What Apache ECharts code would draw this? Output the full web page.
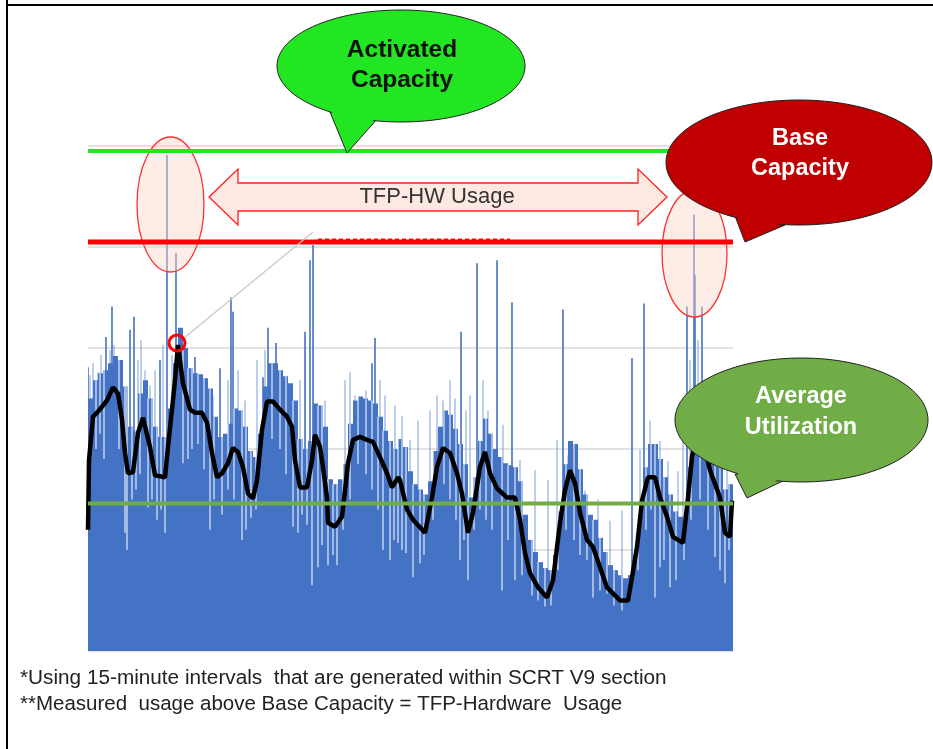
<!DOCTYPE html>
<html><head><meta charset="utf-8">
<script src="https://cdn.jsdelivr.net/npm/echarts@6/dist/echarts.min.js"></script>
<style>html,body{margin:0;padding:0;background:#fff}#c{width:933px;height:749px}</style>
</head><body><div id="c"></div>
<script>
// ---- data (x = 15-minute interval index, y = capacity units) ----
const fillStart = 0, fillStep = 5;
const fillValues = [250,268,275,278,285,292,288,262,222,218,255,268,250,222,212,212,240,285,320,300,
  280,275,274,270,260,232,212,215,225,240,238,222,198,192,215,262,285,285,278,272,
  265,248,210,200,208,245,243,222,170,165,170,185,225,248,252,250,248,245,232,218,
  208,200,210,202,178,165,160,155,168,198,222,238,234,220,205,185,152,172,208,230,
  215,200,192,186,184,182,168,135,110,98,88,82,80,95,138,185,208,205,180,155,
  135,130,112,98,85,80,75,72,75,95,135,182,205,205,190,172,155,138,133,135,
  182,228,258,250,222,200,182,160,165];
const avgX = [0,1,5,10,19,25,30,34,37,40,45,50,55,62,67,77,80,84,87,90,95,102,107,114,119,124,129,134,140,145,150,155,160,165,169,174,179,185,192,199,204,207,212,219,224,227,232,235,239,240,247,254,257,260,265,272,279,285,292,299,304,310,312,319,325,337,344,349,355,362,369,374,380,385,392,397,402,409,419,427,432,437,442,450,459,465,472,477,482,487,492,499,505,512,519,525,532,540,544,549,554,560,567,572,579,585,595,600,604,609,615,622,632,637,642,644];
const avgY = [120,189,232,237,248,261,255,229,196,176,177,216,231,202,174,172,202,239,268,303,265,239,236,236,226,196,172,176,186,201,197,182,156,151,169,219,247,247,239,232,222,189,162,162,189,214,202,182,152,127,123,133,159,186,209,212,209,207,192,176,162,172,169,140,130,117,152,182,201,196,176,156,117,137,182,197,176,161,152,152,130,97,77,63,53,70,127,159,179,166,137,110,103,83,63,57,50,50,73,103,149,172,172,152,133,113,107,152,192,219,209,179,152,117,113,149];
const spikeX = [0,7,18,24,29,42,46,72,79,88,107,132,143,145,175,180,188,217,222,225,284,287,373,389,409,424,475,544,556,599,606,607,614];
const spikeY = [281,265,311,341,285,318,331,288,491,394,291,280,350,336,271,320,305,316,387,402,285,310,316,384,387,345,338,290,344,341,432,372,341];
const lightX = [2,5,10,13,22,26,33,37,50,53,57,62,67,75,84,98,102,112,117,125,140,150,157,169,177,184,194,202,212,230,237,257,262,267,274,278,292,297,307,314,322,330,342,349,355,362,367,378,382,395,400,404,415,432,447,460,469,480,487,497,510,522,534,552,562,572,580,590,595,602,610,618,624,632,639];
const lightY = [273,285,276,293,298,303,273,258,288,308,278,263,278,303,293,268,278,263,270,253,268,278,248,288,298,283,273,253,268,238,248,268,276,253,243,258,268,253,243,233,209,228,238,253,248,268,250,238,253,268,238,204,224,189,179,169,209,194,179,159,150,129,139,199,228,208,188,178,248,288,308,268,228,199,179];
const dipX = [8,12,16,31,37,39,44,48,52,60,64,69,73,77,95,100,104,110,116,122,126,134,140,146,154,158,163,168,184,192,198,205,210,214,219,224,230,234,240,245,249,255,262,270,278,284,290,295,302,306,310,314,318,325,332,336,345,356,362,368,372,376,380,386,392,398,404,414,420,427,434,444,450,457,463,470,478,486,492,499,505,512,519,526,534,550,558,563,567,572,576,582,588,596,603,612,620,627,632,637,641];
const dipLow = [200,215,190,200,117,100,150,160,175,142,150,130,140,117,186,190,200,205,180,120,150,135,160,150,110,120,132,140,210,200,175,123,117,135,125,65,83,105,85,95,85,120,150,185,175,160,140,100,90,110,107,100,97,73,87,95,130,165,150,130,90,110,70,120,140,130,120,60,110,70,75,55,50,44,45,80,120,110,95,90,53,60,57,45,40,80,120,140,53,83,90,63,70,90,130,150,120,93,80,67,100];
const activatedCapacity = 495;
const baseCapacity = 405;
const averageUtilization = 146;
const xMax = 645;
const yTicks = [0,100,200,300,400,500];

const fillData = fillValues.map((v,i)=>[fillStart + i*fillStep + fillStep/2, v]);
const avgData = avgX.map((x,i)=>[x, avgY[i]]);
const spikeData = spikeX.map((x,i)=>[x, spikeY[i]]);
const lightData = lightX.map((x,i)=>[x, lightY[i]]);
const dipData = dipX.map((x,i)=>[x, dipLow[i], fillValues[Math.min(fillValues.length-1, Math.floor(x/fillStep))]]);

function barItem(halfW, color){
  return function(params, api){
    const x = api.value(0), v = api.value(1);
    const a = api.coord([Math.max(0, x - halfW), v]);
    const b = api.coord([Math.min(xMax, x + halfW), 0]);
    return {type:'rect', shape:{x:a[0], y:a[1], width:b[0]-a[0], height:b[1]-a[1]}, style:{fill:color}};
  };
}
function dipItem(params, api){
  const x = api.value(0), lo = api.value(1), hi = api.value(2);
  const a = api.coord([x - 0.6, hi]);
  const b = api.coord([x + 0.6, lo]);
  return {type:'rect', shape:{x:a[0], y:a[1], width:b[0]-a[0], height:b[1]-a[1]}, style:{fill:'rgba(255,255,255,0.85)'}};
}

const chart = echarts.init(document.getElementById('c'), null, {renderer:'canvas'});
const font = '"Liberation Sans", Arial, sans-serif';
chart.setOption({
  animation:false,
  backgroundColor:'#fff',
  grid:{left:88, right:200, top:146, bottom:98},
  xAxis:{type:'value', min:0, max:xMax, show:false},
  yAxis:{type:'value', min:yTicks[0], max:yTicks[yTicks.length-1], interval:100,
    axisLine:{show:false}, axisTick:{show:false}, axisLabel:{show:false},
    splitLine:{lineStyle:{color:'#d9d9d9', width:1.5}}},
  series:[
    {type:'custom', name:'peaks light', z:1, data:lightData, renderItem:barItem(0.6,'rgba(110,145,215,0.75)')},
    {type:'custom', name:'peaks', z:1, data:spikeData, renderItem:barItem(0.8,'#4472c4')},
    {type:'custom', name:'usage', z:2, data:fillData, renderItem:barItem(2.5,'#4472c4')},
    {type:'custom', name:'dips', z:3, data:dipData, renderItem:dipItem},
    {type:'line', name:'moving average', z:6, data:avgData, symbol:'none', lineStyle:{color:'#000', width:4.5}, smooth:false},
    {type:'line', name:'activated', z:7, data:[[0,activatedCapacity],[xMax,activatedCapacity]], symbol:'none', lineStyle:{color:'#22e622', width:4}},
    {type:'line', name:'base', z:7, data:[[0,baseCapacity],[xMax,baseCapacity]], symbol:'none', lineStyle:{color:'#ff0000', width:5}},
    {type:'line', name:'average', z:7, data:[[0,averageUtilization],[xMax,averageUtilization]], symbol:'none', lineStyle:{color:'#70ad47', width:4}}
  ],
  graphic:[
    {type:'line', z:100, shape:{x1:7, y1:0, x2:7, y2:749}, style:{stroke:'#000', lineWidth:2}},
    {type:'line', z:100, shape:{x1:7, y1:5, x2:933, y2:5}, style:{stroke:'#000', lineWidth:2}},
    {type:'ellipse', z:5, shape:{cx:170.5, cy:204.5, rx:33.5, ry:67.5}, style:{fill:'rgba(250,215,200,0.45)', stroke:'#ff3030', lineWidth:1.3}},
    {type:'ellipse', z:5, shape:{cx:694.5, cy:253.5, rx:32.5, ry:63.5}, style:{fill:'rgba(250,215,200,0.45)', stroke:'#ff3030', lineWidth:1.3}},
    {type:'line', z:8, shape:{x1:318, y1:239.5, x2:510, y2:239.5}, style:{stroke:'#ff0000', lineWidth:2, lineDash:[4,3]}},
    {type:'line', z:9, shape:{x1:184, y1:338, x2:313, y2:232}, style:{stroke:'#c8c8c8', lineWidth:1.2}},
    {type:'circle', z:9, shape:{cx:177, cy:343, r:8}, style:{fill:'none', stroke:'#ff0000', lineWidth:3}},
    {type:'polygon', z:8, shape:{points:[[209,197],[238,169],[238,183],[638,183],[638,169],[667,197],[638,225],[638,211],[238,211],[238,225]]},
      style:{fill:'#fde9e1', stroke:'#ff2020', lineWidth:1.3}},
    {type:'text', z:9, x:437, y:197, style:{text:'TFP-HW Usage', font:'22px '+font, fill:'#333', align:'center', verticalAlign:'middle'}},
    {type:'polygon', z:10, shape:{points:[[330,112],[347,153],[378,118]]}, style:{fill:'#22e622', stroke:'#222', lineWidth:1}},
    {type:'ellipse', z:10, shape:{cx:401, cy:66, rx:124, ry:56}, style:{fill:'#22e622', stroke:'#222', lineWidth:1}},
    {type:'polygon', z:10, shape:{points:[[331,110],[347,150],[377,116]]}, style:{fill:'#22e622'}},
    {type:'text', z:11, x:402, y:50, style:{text:'Activated', font:'bold 24.5px '+font, fill:'#111', align:'center', verticalAlign:'middle'}},
    {type:'text', z:11, x:402, y:80, style:{text:'Capacity', font:'bold 24.5px '+font, fill:'#111', align:'center', verticalAlign:'middle'}},
    {type:'polygon', z:10, shape:{points:[[735,216],[745,242],[785,225]]}, style:{fill:'#c00000', stroke:'#222', lineWidth:1}},
    {type:'ellipse', z:10, shape:{cx:799, cy:162.5, rx:133, ry:62.5}, style:{fill:'#c00000', stroke:'#222', lineWidth:1}},
    {type:'polygon', z:10, shape:{points:[[737,214],[746,239],[783,222]]}, style:{fill:'#c00000'}},
    {type:'text', z:11, x:800, y:139, style:{text:'Base', font:'bold 23.5px '+font, fill:'#fff', align:'center', verticalAlign:'middle'}},
    {type:'text', z:11, x:800, y:169, style:{text:'Capacity', font:'bold 23.5px '+font, fill:'#fff', align:'center', verticalAlign:'middle'}},
    {type:'polygon', z:10, shape:{points:[[735,474],[747,498],[785,480]]}, style:{fill:'#70ad47', stroke:'#222', lineWidth:1}},
    {type:'ellipse', z:10, shape:{cx:801.5, cy:420, rx:126.5, ry:62}, style:{fill:'#70ad47', stroke:'#222', lineWidth:1}},
    {type:'polygon', z:10, shape:{points:[[737,472],[748,495],[783,477]]}, style:{fill:'#70ad47'}},
    {type:'text', z:11, x:801, y:397, style:{text:'Average', font:'bold 23.5px '+font, fill:'#fff', align:'center', verticalAlign:'middle'}},
    {type:'text', z:11, x:801, y:428, style:{text:'Utilization', font:'bold 23.5px '+font, fill:'#fff', align:'center', verticalAlign:'middle'}},
    {type:'text', z:11, x:20, y:678, style:{text:'*Using 15-minute intervals  that are generated within SCRT V9 section', font:'20.75px '+font, fill:'#222', align:'left', verticalAlign:'middle'}},
    {type:'text', z:11, x:20, y:704, style:{text:'**Measured  usage above Base Capacity = TFP-Hardware  Usage', font:'20.5px '+font, fill:'#222', align:'left', verticalAlign:'middle'}}
  ]
});
</script></body></html>
